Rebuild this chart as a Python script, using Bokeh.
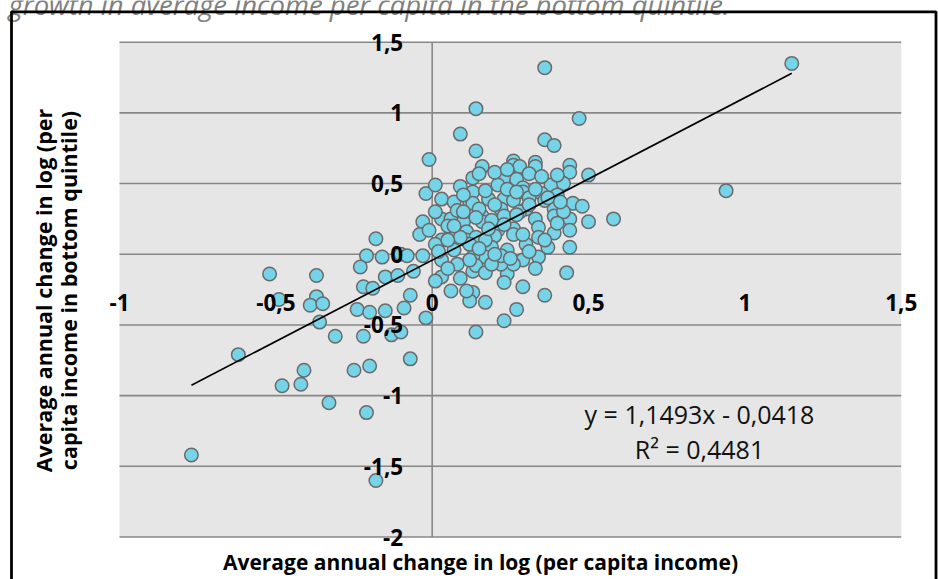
import math
from bokeh.plotting import figure
from bokeh.models import Range1d
from bokeh.core.properties import value
from bokeh.embed import file_html
from bokeh.resources import INLINE

# ---------------- data ----------------
x_vals = [
    -0.01, -0.02, -0.03, -0.04, -0.18, -0.10, -0.03,
    0.09, 0.13, 0.01, 0.09, 0.03, 0.07, 0.12, 0.03, 0.06, 0.10, -0.01, 0.03, 0.06, 0.11, 0.11,
    -0.21, -0.16, -0.08, 0.01, 0.07, 0.01,
    1.15, 0.36, 0.94,
    0.14, 0.47, 0.36, 0.39, 0.14, 0.16, 0.15, 0.26, 0.26, 0.28, 0.33, 0.33, 0.44, 0.44, 0.50,
    0.23, 0.27, 0.21, 0.29, 0.29, 0.38, 0.42, 0.35, 0.13, 0.18, 0.23, 0.26, 0.13, 0.22, 0.30,
    0.33, 0.39, 0.39, 0.45, 0.48, 0.44, 0.50, 0.58, 0.16, 0.16, 0.21, 0.26, 0.26, 0.34, 0.34,
    0.39, 0.44, 0.20, 0.14, 0.19, 0.24, 0.30, 0.44, 0.34, 0.29, 0.17, 0.13,
    0.24, 0.23, 0.29, 0.36, 0.43, 0.27, 0.23, 0.14, 0.17, 0.13, 0.13, 0.14, 0.03, 0.09, 0.12,
    0.01, 0.06, 0.11, 0.12, 0.03, 0.08, 0.26, 0.22, 0.17,
    -0.52, -0.37, -0.23, -0.15, -0.11, -0.06, -0.22, -0.19, -0.37, -0.39, -0.35, -0.49, -0.36,
    -0.31, -0.24, -0.20, -0.15, -0.09, -0.07, -0.02, -0.22, -0.13, -0.10, -0.62, -0.41, -0.48,
    -0.42, -0.25, -0.20, -0.07, -0.33, -0.21, -0.77, -0.18,
    0.05, 0.08, 0.10, 0.15, 0.19, 0.23, 0.28, 0.31, 0.12, 0.17, 0.22, 0.09, 0.05, 0.19, 0.36,
    0.40, 0.42, 0.37, 0.33, 0.24,
    0.20, 0.24, 0.31, 0.35, 0.40, 0.27, 0.33, 0.37, 0.41, 0.31, 0.27, 0.20, 0.17, 0.10, 0.07,
    0.14, 0.18, 0.23, 0.29, 0.31, 0.25, 0.20, 0.15, 0.05, 0.02, 0.36, 0.40,
]
y_vals = [
    0.67, 0.43, 0.23, 0.14, 0.11, 0.00, -0.01,
    0.85, 0.54, 0.49, 0.48, 0.39, 0.37, 0.37, 0.25, 0.25, 0.23, 0.17, 0.10, 0.14, 0.16, 0.10,
    -0.01, -0.02, -0.01, 0.30, 0.03, 0.07,
    1.35, 1.32, 0.45,
    1.03, 0.96, 0.81, 0.77, 0.73, 0.62, 0.57, 0.66, 0.63, 0.62, 0.65, 0.62, 0.63, 0.58, 0.56,
    0.54, 0.53, 0.49, 0.47, 0.44, 0.49, 0.50, 0.43, 0.44, 0.39, 0.39, 0.38, 0.36, 0.32, 0.32,
    0.25, 0.32, 0.27, 0.36, 0.34, 0.25, 0.23, 0.25, 0.27, 0.23, 0.17, 0.18, 0.14, 0.19, 0.12,
    0.15, 0.17, 0.13, 0.12, 0.05, 0.03, 0.07, 0.05, -0.02, -0.04, -0.02, -0.02,
    -0.14, -0.20, -0.23, -0.29, -0.13, -0.39, -0.47, -0.55, -0.34, -0.27, -0.12, -0.08, -0.16, -0.17, -0.33,
    -0.19, -0.26, -0.26, -0.04, -0.04, -0.07, -0.07, -0.07, -0.13,
    -0.14, -0.15, -0.09, -0.16, -0.15, -0.12, -0.23, -0.24, -0.30, -0.36, -0.35, -0.32, -0.48,
    -0.58, -0.39, -0.41, -0.40, -0.38, -0.29, -0.45, -0.58, -0.57, -0.55, -0.71, -0.82, -0.93,
    -0.92, -0.82, -0.79, -0.74, -1.05, -1.12, -1.42, -1.60,
    0.20, 0.31, 0.42, 0.32, 0.24, 0.27, 0.30, 0.40, 0.07, 0.10, -0.01, 0.12, -0.10, -0.07, 0.38,
    0.42, 0.30, 0.05, -0.10, 0.46,
    0.58, 0.60, 0.57, 0.55, 0.56, 0.44, 0.46, 0.40, 0.37, 0.35, 0.28, 0.35, 0.45, 0.30, 0.20,
    0.26, 0.18, 0.21, 0.14, 0.02, -0.03, 0.00, 0.04, 0.10, 0.02, 0.10, 0.22,
]

slope = 1.1493
intercept = -0.0418

x_ticks = [-1, -0.5, 0, 0.5, 1, 1.5]
x_tick_labels = ["-1", "-0,5", "0", "0,5", "1", "1,5"]
y_ticks = [-2, -1.5, -1, -0.5, 0, 0.5, 1, 1.5]
y_tick_labels = ["-2", "-1,5", "-1", "-0,5", "0", "0,5", "1", "1,5"]

title_text = "growth in average income per capita in the bottom quintile."
x_title = "Average annual change in log (per capita income)"
y_title_1 = "Average annual change in log (per"
y_title_2 = "capita income in bottom quintile)"
eq_text = "y = 1,1493x - 0,0418"
r2_text = "R\u00b2 = 0,4481"

# ---------------- layout (pixels) ----------------
W, H = 938, 579
XMIN, XMAX = -1.0, 1.5
YMIN, YMAX = -2.0, 1.5
PL, PR, PT, PB = 119.0, 900.7, 41.7, 536.5   # plot-area edges in canvas px

kx = (PR - PL) / (XMAX - XMIN)
ky = (PB - PT) / (YMAX - YMIN)

def px2x(px):
    return XMIN + (px - PL) / kx

def py2y(py):
    return YMAX - (py - PT) / ky

p = figure(width=W, height=H, output_backend="svg", toolbar_location=None,
           x_axis_type=None, y_axis_type=None,
           x_range=Range1d(px2x(0), px2x(W)), y_range=Range1d(py2y(H), py2y(0)),
           min_border=0, min_border_left=0, min_border_right=0,
           min_border_top=0, min_border_bottom=0)
p.outline_line_color = None
p.background_fill_color = "white"
p.border_fill_color = "white"
p.grid.visible = False

# plot area
p.quad(left=XMIN, right=XMAX, bottom=YMIN, top=YMAX, fill_color="#E6E6E6", line_color=None)

GRID = "#878787"
p.segment(x0=[XMIN] * len(y_ticks), x1=[XMAX] * len(y_ticks), y0=y_ticks, y1=y_ticks,
          line_color=GRID, line_width=1.6)
p.segment(x0=[0], x1=[0], y0=[YMIN], y1=[YMAX], line_color=GRID, line_width=1.6)

# points
p.scatter(x_vals, y_vals, size=13.5, marker="circle", fill_color="#76D4E8",
          line_color="#6A6A6A", line_width=1.5)

# trend line
x0, x1 = min(x_vals), max(x_vals)
p.line([x0, x1], [slope * x0 + intercept, slope * x1 + intercept], line_color="black", line_width=1.6)

FONT = value("Open Sans")
# tick labels
p.text(x=x_ticks, y=[0] * len(x_ticks), text=x_tick_labels, text_font=FONT,
       text_font_style="bold", text_font_size="22.5px", text_align="center",
       text_baseline="middle", y_offset=48, text_color="black")
p.text(x=[0] * len(y_ticks), y=y_ticks, text=y_tick_labels, text_font=FONT,
       text_font_style="bold", text_font_size="22.5px", text_align="right",
       text_baseline="middle", x_offset=-29, text_color="black")

# axis titles
p.text(x=[px2x(480)], y=[py2y(561)], text=[x_title], text_font=FONT, text_font_style="bold",
       text_font_size="21px", text_align="center", text_baseline="middle", text_color="black")
p.text(x=[px2x(43), px2x(68)], y=[py2y(290), py2y(290)], text=[y_title_1, y_title_2],
       text_font=FONT, text_font_style="bold", text_font_size="21.5px", text_align="center",
       text_baseline="middle", angle=math.pi / 2, text_color="black")

# equation
p.text(x=[px2x(699), px2x(699)], y=[py2y(413), py2y(448)], text=[eq_text, r2_text],
       text_font=FONT, text_font_size="25px", text_align="center", text_baseline="middle",
       text_color="#111111")

# partial title at top
p.text(x=[px2x(8)], y=[py2y(3.5)], text=[title_text], text_font=FONT, text_font_style="italic",
       text_font_size="27.5px", text_align="left", text_baseline="alphabetic", text_color="#808080")

# chart border
p.quad(left=px2x(11), right=px2x(935.5), top=py2y(11.3), bottom=py2y(H + 20),
       fill_color=None, line_color="black", line_width=2.8)

open("out.html", "w").write(file_html(p, INLINE))
